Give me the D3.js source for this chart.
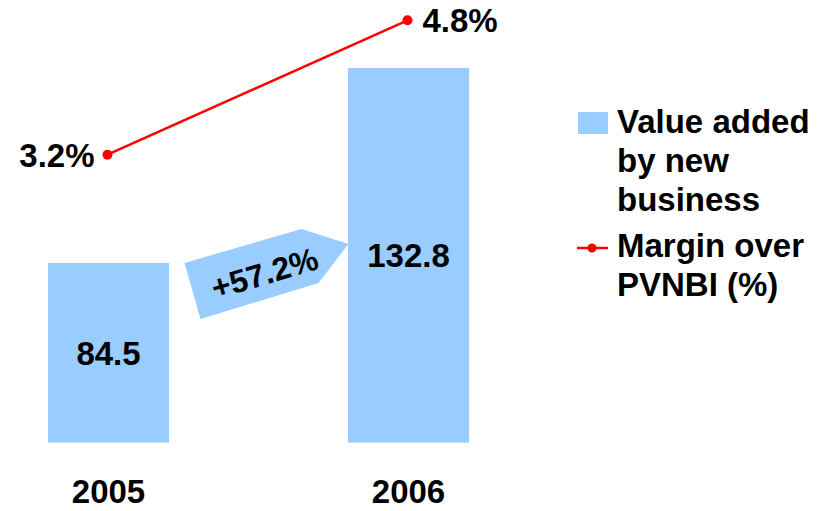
<!DOCTYPE html>
<html>
<head>
<meta charset="utf-8">
<script src="https://cdn.jsdelivr.net/npm/d3@7"></script>
<style>
  html, body { margin: 0; padding: 0; background: #fff; }
  svg { display: block; }
  text { font-family: "Liberation Sans", Arial, sans-serif; font-weight: bold; fill: #000; }
</style>
</head>
<body>
<svg id="chart" width="822" height="511"></svg>
<script>
const years = ["2005", "2006"];
const valueAdded = [84.5, 132.8];
const margin = [3.2, 4.8];
const growthLabel = "+57.2%";
const legendBar = ["Value added", "by new", "business"];
const legendLine = ["Margin over", "PVNBI (%)"];

const svg = d3.select("#chart");
const blue = "#99CCFF", red = "#FF0000";
const barW = 121;

const x = d3.scalePoint().domain(years).range([108.5, 408.5]);
const yBar = d3.scaleLinear().domain([40, 140]).range([442.6, 38.9]);
const yLine = d3.scaleLinear().domain([0, 5]).range([423.5, 3.5]);

// bars
svg.selectAll("rect.bar").data(years).join("rect")
  .attr("class", "bar")
  .attr("x", d => x(d) - barW / 2)
  .attr("width", barW)
  .attr("y", (d, i) => yBar(valueAdded[i]))
  .attr("height", (d, i) => yBar.range()[0] - yBar(valueAdded[i]))
  .attr("fill", blue);

// bar value labels
const labelY = [365, 267];
svg.selectAll("text.val").data(years).join("text")
  .attr("class", "val")
  .attr("x", d => x(d))
  .attr("y", (d, i) => labelY[i])
  .attr("text-anchor", "middle")
  .attr("font-size", 33)
  .text((d, i) => valueAdded[i]);

// year labels
svg.selectAll("text.year").data(years).join("text")
  .attr("class", "year")
  .attr("x", d => x(d))
  .attr("y", 503)
  .attr("text-anchor", "middle")
  .attr("font-size", 33)
  .text(d => d);

// growth arrow
const cx = (x(years[0]) + barW / 2 + x(years[1]) - barW / 2) / 2;
const cy = yBar(valueAdded[0]) + 11;
const arrowPts = [[-74, -11], [43, -45], [90, -30], [60, 9], [-58, 45]];
svg.append("polygon")
  .attr("points", arrowPts.map(p => [cx + p[0], cy + p[1]].join(",")).join(" "))
  .attr("fill", blue);
svg.append("text")
  .attr("transform", `translate(${cx + 6},${cy - 1}) rotate(-16.5)`)
  .attr("text-anchor", "middle")
  .attr("dy", "0.36em")
  .attr("font-size", 32)
  .text(growthLabel);

// margin line
const line = d3.line().x((d, i) => x(years[i]) - 1).y(d => yLine(d));
svg.append("path")
  .datum(margin)
  .attr("d", line)
  .attr("fill", "none")
  .attr("stroke", red)
  .attr("stroke-width", 2.5);
svg.selectAll("circle.pt").data(margin).join("circle")
  .attr("class", "pt")
  .attr("cx", (d, i) => x(years[i]) - 1)
  .attr("cy", d => yLine(d))
  .attr("r", 5)
  .attr("fill", red);
svg.selectAll("text.pct").data(margin).join("text")
  .attr("class", "pct")
  .attr("x", (d, i) => i === 0 ? x(years[i]) - 14 : x(years[i]) + 14)
  .attr("y", d => yLine(d) + 12)
  .attr("text-anchor", (d, i) => i === 0 ? "end" : "start")
  .attr("font-size", 33)
  .text(d => d.toFixed(1) + "%");

// legend
const lg = svg.append("g");
lg.append("rect").attr("x", 578).attr("y", 112).attr("width", 30).attr("height", 22).attr("fill", blue);
lg.selectAll("text.lb").data(legendBar).join("text")
  .attr("class", "lb")
  .attr("x", 617)
  .attr("y", (d, i) => 133 + i * 39)
  .attr("font-size", 33)
  .text(d => d);
lg.append("line").attr("x1", 577).attr("x2", 608).attr("y1", 248).attr("y2", 248)
  .attr("stroke", red).attr("stroke-width", 2.5);
lg.append("circle").attr("cx", 592).attr("cy", 248).attr("r", 4.5).attr("fill", red);
lg.selectAll("text.ll").data(legendLine).join("text")
  .attr("class", "ll")
  .attr("x", 617)
  .attr("y", (d, i) => 257 + i * 39)
  .attr("font-size", 33)
  .text(d => d);
</script>
</body>
</html>
